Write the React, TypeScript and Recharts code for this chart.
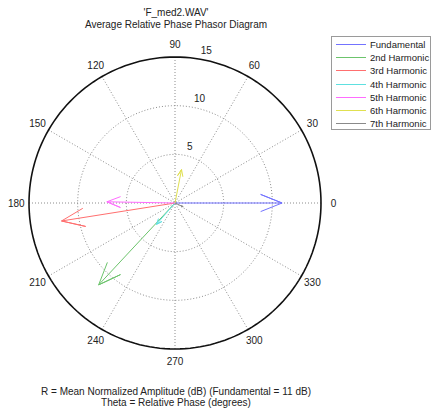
import React from 'react';
import { ComposedChart, Scatter, XAxis, YAxis, ReferenceLine, ReferenceDot } from 'recharts';

const seriesNames = ['Fundamental', '2nd Harmonic', '3rd Harmonic', '4th Harmonic', '5th Harmonic', '6th Harmonic', '7th Harmonic'];
const amplitudes = [11.0, 11.5, 11.8, 2.9, 7.0, 3.5, 0.9];
const phases = [0, 227, 189, 229, 179, 79, 335];
const colors = ['#7373ff', '#6cc46c', '#ff6f6f', '#5ee0e0', '#ff6cff', '#e0e050', '#8a8a8a'];

const angleTicks = [0, 30, 60, 90, 120, 150, 180, 210, 240, 270, 300, 330];
const radiusTicks = [5, 10, 15];
const rMax = 15;

const titleLines = ["'F_med2.WAV'", 'Average Relative Phase Phasor Diagram'];
const footerLines = ['R = Mean Normalized Amplitude (dB) (Fundamental = 11 dB)', 'Theta = Relative Phase (degrees)'];

const FONT = '"Liberation Sans", Arial, sans-serif';
const RAD = Math.PI / 180;

// compass-style arrow: shaft + two barbs (MATLAB compass proportions)
const arrowShape: [number, number][] = [[0, 0], [1, 0], [0.8, 0.08], [1, 0], [0.8, -0.08]];
function arrowPoints(r: number, deg: number) {
  const c = Math.cos(deg * RAD);
  const s = Math.sin(deg * RAD);
  return arrowShape.map(([u, v]) => ({ x: r * (u * c - v * s), y: r * (u * s + v * c) }));
}

function ringPoints(v: number) {
  const pts = [] as { x: number; y: number }[];
  for (let a = 0; a <= 360; a += 2) pts.push({ x: v * Math.cos(a * RAD), y: v * Math.sin(a * RAD) });
  return pts;
}

const noDot = () => <g />;

export default function App() {
  return (
    <div style={{ position: 'absolute', left: 0, top: 0, width: 433, height: 408, background: '#fff', fontFamily: FONT }}>
      <div style={{ position: 'absolute', left: 0, top: 7, width: 352, textAlign: 'center', fontSize: 10, lineHeight: '12px', color: '#222' }}>
        {titleLines.map((t) => (
          <div key={t}>{t}</div>
        ))}
      </div>
      <ComposedChart width={433} height={408} margin={{ left: 29, top: 57, right: 112, bottom: 59 }}>
        <XAxis type="number" dataKey="x" domain={[-rMax, rMax]} hide />
        <YAxis type="number" dataKey="y" domain={[-rMax, rMax]} hide />
        {angleTicks.slice(0, 6).map((a) => (
          <ReferenceLine
            key={'sp' + a}
            ifOverflow="visible"
            segment={[
              { x: -rMax * Math.cos(a * RAD), y: -rMax * Math.sin(a * RAD) },
              { x: rMax * Math.cos(a * RAD), y: rMax * Math.sin(a * RAD) },
            ]}
            stroke="#8c8c8c"
            strokeDasharray="1 2"
          />
        ))}
        {radiusTicks.slice(0, 2).map((v) => (
          <Scatter
            key={'ring' + v}
            data={ringPoints(v)}
            line={{ stroke: '#8c8c8c', strokeWidth: 1, strokeDasharray: '1 2' }}
            lineType="joint"
            shape={noDot}
            isAnimationActive={false}
          />
        ))}
        <Scatter
          data={ringPoints(rMax)}
          line={{ stroke: '#111', strokeWidth: 1.6 }}
          lineType="joint"
          shape={noDot}
          isAnimationActive={false}
        />
        {seriesNames.map((n, i) => (
          <Scatter
            key={n}
            name={n}
            data={arrowPoints(amplitudes[i], phases[i])}
            line={{ stroke: colors[i], strokeWidth: 1 }}
            lineType="joint"
            shape={noDot}
            isAnimationActive={false}
          />
        ))}
        {angleTicks.map((a) => (
          <ReferenceDot
            key={'al' + a}
            x={16.3 * Math.cos(a * RAD)}
            y={16.3 * Math.sin(a * RAD)}
            r={0}
            ifOverflow="visible"
            shape={(p: any) => (
              <text x={p.cx} y={p.cy} textAnchor="middle" dominantBaseline="central" fontSize={10} fontFamily={FONT} fill="#222">
                {a}
              </text>
            )}
          />
        ))}
        {radiusTicks.map((v) => (
          <ReferenceDot
            key={'rl' + v}
            x={(v + 0.25) * Math.cos(82 * RAD)}
            y={(v + 0.25) * Math.sin(82 * RAD)}
            r={0}
            ifOverflow="visible"
            shape={(p: any) => (
              <text x={p.cx + 5} y={p.cy - 2} textAnchor="start" fontSize={10} fontFamily={FONT} fill="#222">
                {v}
              </text>
            )}
          />
        ))}
      </ComposedChart>
      <div
        style={{
          position: 'absolute',
          left: 331,
          top: 36,
          width: 100,
          height: 94,
          border: '1px solid #9a9a9a',
          background: '#fff',
          boxSizing: 'border-box',
        }}
      >
        {seriesNames.map((n, i) => (
          <div key={n} style={{ position: 'absolute', left: 0, top: 1 + i * 13.2, height: 13, width: 98, display: 'flex', alignItems: 'center' }}>
            <div style={{ marginLeft: 4, width: 30, height: 1, background: colors[i] }} />
            <span style={{ marginLeft: 4, fontSize: 9.5, color: '#222', whiteSpace: 'nowrap' }}>{n}</span>
          </div>
        ))}
      </div>
      <div style={{ position: 'absolute', left: 0, top: 386, width: 352, textAlign: 'center', fontSize: 10, lineHeight: '11px', color: '#222' }}>
        {footerLines.map((t) => (
          <div key={t}>{t}</div>
        ))}
      </div>
    </div>
  );
}
